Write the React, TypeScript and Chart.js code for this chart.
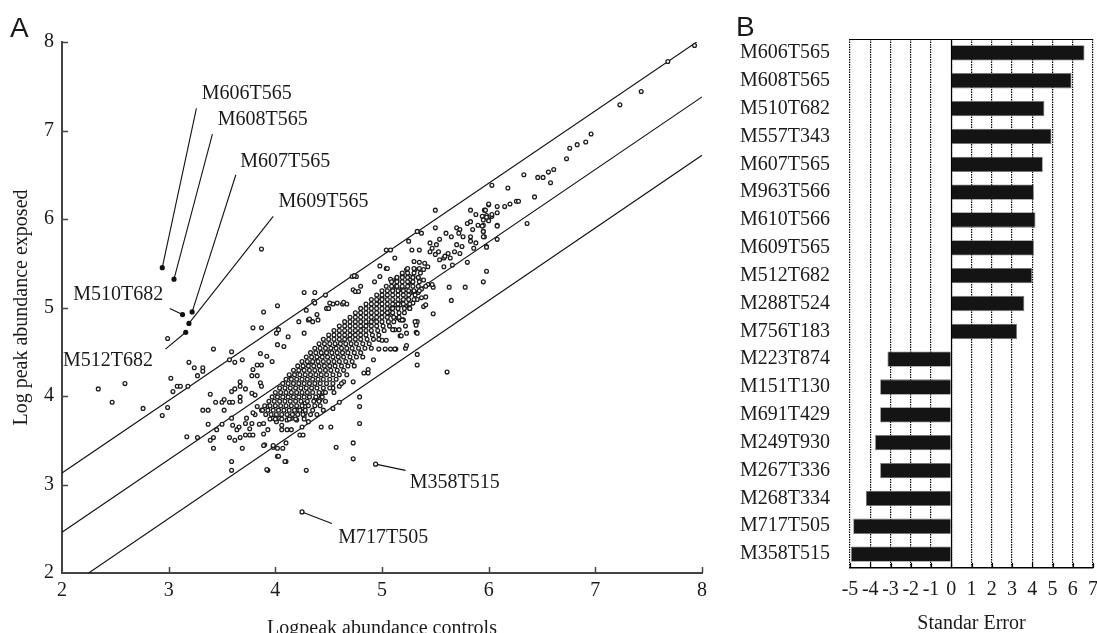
import React, { useEffect, useRef } from "react";
import { Chart, registerables } from "chart.js";

Chart.register(...registerables);

const SERIF = '"Liberation Serif", "Times New Roman", serif';
const SANS = '"Liberation Sans", Arial, sans-serif';
const INK = "#1a1a1a";

// ---------------- Panel A data ----------------
const axisMinA = 2;
const axisMaxA = 8;

// scattered (non-core) points [controls, exposed]
const scatterPoints: [number, number][] = [
  [2.34, 4.08], [2.47, 3.93], [2.59, 4.14], [2.76, 3.86], [2.94, 3.78], [2.99, 3.87], [3.02, 4.2], [3.04, 4.05],
  [2.99, 4.65], [3.08, 4.11], [3.11, 4.11], [3.17, 3.54], [3.18, 4.11], [3.19, 4.38],
  [3.42, 4.53], [3.59, 4.5], [3.57, 4.41], [3.62, 4.38], [3.69, 4.41],
  [3.24, 4.32], [3.32, 4.32], [3.32, 4.28], [3.27, 4.23],
  [3.39, 4.02], [3.44, 3.93], [3.5, 3.93], [3.52, 3.96], [3.57, 3.93], [3.6, 3.93], [3.59, 4.05], [3.62, 4.08],
  [3.67, 4.16], [3.67, 4.11], [3.67, 3.99], [3.67, 3.94],
  [3.32, 3.84], [3.37, 3.84], [3.52, 3.84], [3.37, 3.68], [3.45, 3.62], [3.5, 3.68],
  [3.27, 3.53], [3.39, 3.5], [3.42, 3.53], [3.42, 3.41], [3.57, 3.53], [3.62, 3.5], [3.67, 3.53], [3.72, 3.56],
  [3.59, 3.75], [3.6, 3.67], [3.64, 3.62], [3.66, 3.65], [3.69, 3.41], [3.59, 3.26], [3.59, 3.16],
  [3.72, 3.69], [3.73, 3.75], [3.78, 3.69], [3.76, 3.63], [3.76, 3.56], [3.79, 3.56], [3.81, 3.79], [3.85, 3.68],
  [3.89, 3.69], [3.89, 3.57], [3.93, 3.62],
  [3.9, 3.45], [3.98, 3.42], [4.02, 3.41], [4.07, 3.41], [4.1, 3.47], [4.02, 3.32], [4.1, 3.26], [3.93, 3.16],
  [4.29, 3.16], [3.89, 3.44], [3.98, 3.44],
  [4.06, 3.62], [4.11, 3.62], [4.15, 3.62], [4.23, 3.56], [4.26, 3.56], [4.01, 3.71], [4.06, 3.67],
  [3.98, 3.75], [4.04, 3.75], [4.11, 3.73], [4.15, 3.75], [4.2, 3.73], [4.28, 3.81], [4.31, 3.71], [4.14, 3.77],
  [4.2, 3.84], [4.26, 3.86], [4.28, 3.92], [4.37, 3.96],
  [3.86, 4.48], [3.92, 4.45], [3.97, 4.39], [4.02, 4.58], [4.08, 4.56], [4.12, 4.67], [4.27, 4.71],
  [3.79, 4.3], [3.83, 4.35], [3.87, 4.35], [3.78, 4.23], [3.83, 4.23], [3.86, 4.15], [3.87, 4.11], [3.78, 4.03],
  [3.81, 4.01], [3.72, 4.08], [3.83, 3.88], [3.87, 3.84], [3.93, 3.88], [3.79, 3.81],
  [3.79, 4.77], [3.87, 4.77],
  [3.87, 5.66], [3.89, 4.95], [4.02, 5.02], [4.22, 4.84], [4.31, 4.86], [4.4, 4.86], [4.36, 5.07], [4.47, 5.14],
  [4.72, 5.35], [4.76, 5.35], [5.04, 5.65], [5.08, 5.65], [4.98, 5.47], [5.04, 5.44], [4.54, 5.04], [4.58, 5.05],
  [4.63, 5.04], [4.67, 5.04], [4.03, 4.75], [4.01, 4.71],
  [4.27, 5.17], [4.37, 5.17], [4.37, 5.05], [4.29, 4.97], [4.32, 4.87], [4.35, 4.84], [4.39, 4.92], [4.51, 5.05],
  [4.48, 4.99], [4.5, 4.99], [4.64, 5.06], [4.73, 5.2], [4.75, 5.18], [4.78, 5.18], [4.74, 5.36], [4.8, 5.24],
  [4.98, 5.35], [4.93, 5.29], [5.05, 5.44], [5.08, 5.32], [5.13, 5.32], [4.98, 5.07], [5.0, 5.11],
  [5.17, 4.86], [5.2, 4.86], [5.12, 4.75], [5.16, 4.75], [5.22, 4.79], [5.33, 4.84], [5.32, 4.72], [5.17, 4.68],
  [5.0, 4.63], [5.04, 4.63], [4.97, 4.53], [5.03, 4.53], [5.08, 4.53], [5.13, 4.53], [5.22, 4.54], [5.33, 4.35],
  [4.92, 4.41], [4.87, 4.3], [4.87, 4.26], [4.83, 4.26], [4.73, 4.16], [4.64, 4.16], [4.54, 4.09], [4.6, 4.11],
  [4.79, 3.99], [4.79, 3.88], [4.79, 3.69], [4.6, 3.93], [4.54, 3.86], [4.52, 3.65], [4.45, 4.04], [4.43, 3.99],
  [4.42, 3.96], [4.45, 3.84], [4.28, 3.88], [4.26, 3.82], [4.19, 3.81], [4.27, 3.77], [4.25, 3.65],
  [4.73, 3.47], [4.73, 3.29], [4.57, 3.42], [4.43, 3.65], [3.92, 3.17], [4.09, 3.26], [4.03, 3.32],
  [5.33, 4.47], [5.61, 4.27], [5.23, 4.57],
  [5.5, 6.1], [5.83, 6.1], [5.96, 6.1], [6.0, 6.16], [6.08, 6.14], [6.15, 6.14], [6.2, 6.17], [6.26, 6.2], [6.28, 6.2],
  [5.88, 6.05], [5.94, 6.03], [5.98, 6.04], [6.08, 6.07], [6.03, 6.03],
  [5.33, 5.86], [5.37, 5.84], [5.25, 5.75], [5.12, 5.56], [5.28, 5.65], [5.35, 5.65],
  [5.5, 5.9], [5.6, 5.84], [5.65, 5.8], [5.7, 5.9], [5.73, 5.88], [5.72, 5.84], [5.76, 5.8],
  [5.8, 5.95], [5.83, 5.97], [5.85, 5.88], [5.9, 5.93], [5.95, 5.93], [6.0, 5.99], [5.95, 5.86], [5.96, 5.8],
  [5.83, 5.8], [5.83, 5.75], [5.88, 5.73], [5.86, 5.67], [5.98, 5.69], [6.08, 5.77], [6.08, 5.93],
  [5.54, 5.77], [5.51, 5.71], [5.45, 5.73], [5.47, 5.67], [5.45, 5.63], [5.5, 5.6], [5.53, 5.63], [5.54, 5.54],
  [5.58, 5.56], [5.59, 5.58], [5.62, 5.61], [5.64, 5.56], [5.68, 5.63], [5.7, 5.71], [5.75, 5.69], [5.73, 5.61],
  [5.66, 5.48], [5.58, 5.46], [5.8, 5.51], [5.98, 5.41], [5.95, 5.29], [5.78, 5.23], [5.63, 5.23], [5.65, 5.08],
  [5.48, 5.23], [5.47, 5.26], [5.43, 5.26], [5.41, 5.24], [5.48, 4.93],
  [5.39, 5.31], [5.35, 5.32], [5.29, 5.34], [5.26, 5.35], [5.25, 5.28], [5.31, 5.43], [5.39, 5.43], [5.43, 5.46],
  [5.4, 5.5], [5.35, 5.51], [5.3, 5.52], [5.23, 5.43], [5.19, 5.36], [5.14, 5.31], [5.13, 5.24], [5.1, 5.2],
  [5.16, 5.2], [5.2, 5.2], [5.23, 5.2], [5.29, 5.18], [5.34, 5.17], [5.37, 5.21], [5.41, 5.12], [5.37, 5.11],
  [5.33, 5.09], [5.29, 5.05], [5.25, 5.03], [5.22, 5.01], [5.17, 5.03], [5.12, 5.03], [5.09, 4.99], [5.09, 4.92],
  [5.15, 4.88], [5.19, 4.86], [5.26, 4.99], [5.39, 5.01], [5.41, 5.03], [5.31, 4.84], [5.32, 4.8], [5.33, 4.71],
  [5.23, 4.71], [5.18, 4.68], [5.12, 4.53], [5.1, 4.75],
  [6.03, 6.38], [6.18, 6.35], [6.33, 6.5], [6.46, 6.47], [6.51, 6.47], [6.56, 6.53], [6.61, 6.56], [6.58, 6.41],
  [6.73, 6.68], [6.76, 6.8], [6.83, 6.84], [6.91, 6.87], [6.96, 6.96], [6.43, 6.25], [6.36, 5.95],
  [6.0, 6.17], [6.03, 6.05], [5.97, 6.1], [5.95, 5.99], [6.0, 5.98], [5.98, 6.02], [5.94, 5.92], [5.95, 5.86],
  [5.95, 5.8], [6.08, 5.92], [5.98, 5.68],
  [7.93, 7.96], [7.68, 7.78], [7.43, 7.44], [7.23, 7.29],
];

// dense core, row by row: [exposed, controls values]
const coreRows: [number, number[]][] = [
  [3.74, [3.95, 4.0, 4.06, 4.13, 4.19, 4.27]],
  [3.79, [3.91, 3.96, 4.01, 4.06, 4.11, 4.16, 4.21, 4.26, 4.33, 4.39]],
  [3.84, [3.88, 3.93, 3.98, 4.03, 4.08, 4.13, 4.18, 4.23, 4.28, 4.35]],
  [3.89, [3.9, 3.95, 4.0, 4.05, 4.1, 4.15, 4.2, 4.25, 4.31, 4.37, 4.42]],
  [3.94, [3.94, 3.99, 4.04, 4.09, 4.14, 4.19, 4.24, 4.3, 4.36, 4.41, 4.47]],
  [3.99, [3.97, 4.02, 4.07, 4.12, 4.17, 4.22, 4.27, 4.32, 4.38, 4.44]],
  [4.04, [4.0, 4.05, 4.1, 4.15, 4.2, 4.25, 4.3, 4.35, 4.41, 4.47, 4.55]],
  [4.09, [4.04, 4.09, 4.14, 4.19, 4.24, 4.29, 4.34, 4.39, 4.45, 4.51]],
  [4.14, [4.07, 4.12, 4.17, 4.22, 4.27, 4.32, 4.37, 4.42, 4.48, 4.54, 4.62]],
  [4.19, [4.1, 4.15, 4.2, 4.25, 4.3, 4.35, 4.4, 4.45, 4.51, 4.57]],
  [4.24, [4.13, 4.18, 4.23, 4.28, 4.33, 4.38, 4.43, 4.48, 4.54, 4.6, 4.67]],
  [4.29, [4.17, 4.22, 4.27, 4.32, 4.37, 4.42, 4.47, 4.52, 4.58, 4.64]],
  [4.34, [4.21, 4.26, 4.31, 4.36, 4.41, 4.46, 4.51, 4.56, 4.62, 4.68, 4.74]],
  [4.39, [4.25, 4.3, 4.35, 4.4, 4.45, 4.5, 4.55, 4.6, 4.66, 4.72]],
  [4.44, [4.29, 4.34, 4.39, 4.44, 4.49, 4.54, 4.59, 4.64, 4.7, 4.76, 4.82]],
  [4.49, [4.33, 4.38, 4.43, 4.48, 4.53, 4.58, 4.63, 4.68, 4.74, 4.8]],
  [4.54, [4.37, 4.42, 4.47, 4.52, 4.57, 4.62, 4.67, 4.72, 4.78, 4.84, 4.9]],
  [4.59, [4.41, 4.46, 4.51, 4.56, 4.61, 4.66, 4.71, 4.76, 4.82, 4.88]],
  [4.64, [4.45, 4.5, 4.55, 4.6, 4.65, 4.7, 4.75, 4.8, 4.86, 4.92, 4.97]],
  [4.69, [4.5, 4.55, 4.6, 4.65, 4.7, 4.75, 4.8, 4.85, 4.91, 4.97]],
  [4.74, [4.55, 4.6, 4.65, 4.7, 4.75, 4.8, 4.85, 4.9, 4.96, 5.02]],
  [4.79, [4.6, 4.65, 4.7, 4.75, 4.8, 4.85, 4.9, 4.95, 5.01, 5.07]],
  [4.84, [4.65, 4.7, 4.75, 4.8, 4.85, 4.9, 4.95, 5.0, 5.06, 5.11]],
  [4.89, [4.7, 4.75, 4.8, 4.85, 4.9, 4.95, 5.0, 5.05, 5.11, 5.16]],
  [4.94, [4.75, 4.8, 4.85, 4.9, 4.95, 5.0, 5.05, 5.1, 5.16, 5.21]],
  [4.99, [4.8, 4.85, 4.9, 4.95, 5.0, 5.05, 5.1, 5.15, 5.21, 5.26]],
  [5.04, [4.85, 4.9, 4.95, 5.0, 5.05, 5.1, 5.15, 5.2, 5.26]],
  [5.09, [4.9, 4.95, 5.0, 5.05, 5.1, 5.15, 5.2, 5.25, 5.3]],
  [5.14, [4.95, 5.0, 5.05, 5.1, 5.15, 5.2, 5.25, 5.31]],
  [5.19, [5.0, 5.05, 5.1, 5.15, 5.2, 5.25, 5.3, 5.35]],
  [5.24, [5.04, 5.09, 5.14, 5.19, 5.24, 5.29, 5.34]],
  [5.29, [5.09, 5.14, 5.19, 5.24, 5.29, 5.35]],
  [5.34, [5.14, 5.19, 5.24, 5.29, 5.34]],
  [5.39, [5.19, 5.24, 5.3, 5.36]],
  [5.44, [5.24, 5.3, 5.35]],
];

// labelled compounds
const labeledNames = ["M606T565", "M608T565", "M607T565", "M609T565", "M510T682", "M512T682", "M358T515", "M717T505"];
const labeledX = [2.94, 3.05, 3.22, 3.19, 3.13, 3.16, 4.94, 4.25];
const labeledY = [5.45, 5.32, 4.95, 4.82, 4.92, 4.72, 3.23, 2.69];
const labeledFilled = [true, true, true, true, true, true, false, false];
const leaderX = [3.26, 3.41, 3.63, 3.98, 3.01, 2.97, 5.22, 4.53];
const leaderY = [7.25, 6.96, 6.5, 6.03, 4.99, 4.53, 3.16, 2.56];
const labelTextX = [3.31, 3.46, 3.67, 4.03, 2.95, 2.01, 5.26, 4.59];
const labelTextY = [7.41, 7.12, 6.65, 6.2, 5.14, 4.4, 3.02, 2.4];
const labelAlign = ["left", "left", "left", "left", "right", "left", "left", "left"];

// reference lines
const upperLineX = [2, 7.95];
const upperLineY = [3.13, 8.0];
const middleLineX = [2, 8];
const middleLineY = [2.46, 7.38];
const lowerLineX = [2.25, 8];
const lowerLineY = [2, 6.72];

// ---------------- Panel B data ----------------
const compounds = [
  "M606T565", "M608T565", "M510T682", "M557T343", "M607T565", "M963T566", "M610T566", "M609T565", "M512T682",
  "M288T524", "M756T183", "M223T874", "M151T130", "M691T429", "M249T930", "M267T336", "M268T334", "M717T505", "M358T515",
];
const standardErrors = [6.58, 5.94, 4.6, 4.95, 4.52, 4.08, 4.16, 4.08, 3.99, 3.61, 3.25, -3.15, -3.51, -3.51, -3.76, -3.51, -4.22, -4.84, -4.95];
const errorMin = -5;
const errorMax = 7;

function toXY(xs: number[], ys: number[]) {
  return xs.map((x, i) => ({ x, y: ys[i] }));
}

const inwardTicksA = {
  id: "inwardTicksA",
  afterDraw(chart: any) {
    const { ctx, chartArea, scales } = chart;
    const x = scales.x;
    const y = scales.y;
    ctx.save();
    ctx.strokeStyle = "#444";
    ctx.lineWidth = 1.5;
    x.ticks.forEach((t: any) => {
      if (t.value === x.min) return;
      const px = Math.round(x.getPixelForValue(t.value)) + 0.5;
      ctx.beginPath();
      ctx.moveTo(px, chartArea.bottom);
      ctx.lineTo(px, chartArea.bottom - 6);
      ctx.stroke();
    });
    y.ticks.forEach((t: any) => {
      if (t.value === y.min) return;
      const py = Math.round(y.getPixelForValue(t.value)) + 0.5;
      ctx.beginPath();
      ctx.moveTo(chartArea.left, py);
      ctx.lineTo(chartArea.left + 6, py);
      ctx.stroke();
    });
    // annotation texts
    ctx.fillStyle = INK;
    ctx.font = `20px ${SERIF}`;
    ctx.textBaseline = "middle";
    labeledNames.forEach((name, i) => {
      ctx.textAlign = labelAlign[i] as CanvasTextAlign;
      ctx.fillText(name, x.getPixelForValue(labelTextX[i]), y.getPixelForValue(labelTextY[i]));
    });
    // panel letter
    ctx.font = `28px ${SANS}`;
    ctx.textAlign = "left";
    ctx.textBaseline = "alphabetic";
    ctx.fillText("A", 10, 37);
    ctx.restore();
  },
};

const frameB = {
  id: "frameB",
  beforeDatasetsDraw(chart: any) {
    const { ctx, chartArea, scales } = chart;
    const x = scales.x;
    ctx.save();
    ctx.strokeStyle = "#000";
    ctx.lineWidth = 1.2;
    const zx = Math.round(x.getPixelForValue(0)) + 0.5;
    ctx.beginPath();
    ctx.moveTo(zx, chartArea.top);
    ctx.lineTo(zx, chartArea.bottom);
    ctx.stroke();
    ctx.beginPath();
    ctx.moveTo(chartArea.left, chartArea.top + 0.5);
    ctx.lineTo(chartArea.right, chartArea.top + 0.5);
    ctx.stroke();
    ctx.restore();
  },
  afterDraw(chart: any) {
    const { ctx, chartArea, scales } = chart;
    const x = scales.x;
    ctx.save();
    ctx.strokeStyle = "#000";
    ctx.lineWidth = 1.2;
    x.ticks.forEach((t: any) => {
      const px = Math.round(x.getPixelForValue(t.value)) + 0.5;
      ctx.beginPath();
      ctx.moveTo(px, chartArea.bottom);
      ctx.lineTo(px, chartArea.bottom - 5);
      ctx.stroke();
    });
    ctx.fillStyle = INK;
    ctx.font = `28px ${SANS}`;
    ctx.textBaseline = "alphabetic";
    ctx.fillText("B", 16, 36);
    ctx.restore();
  },
};

export default function App() {
  const refA = useRef<HTMLCanvasElement>(null);
  const refB = useRef<HTMLCanvasElement>(null);

  useEffect(() => {
    const scatterData = [
      ...scatterPoints.map(([x, y]) => ({ x, y })),
      ...coreRows.flatMap(([y, xs]) => xs.map((x) => ({ x, y }))),
    ];
    const lineStyle = {
      showLine: true,
      pointRadius: 0,
      borderColor: "#111",
      borderWidth: 1.1,
      fill: false,
    };
    const leaderDatasets = labeledNames.map((name, i) => ({
      label: name + " leader",
      data: [
        { x: labeledX[i], y: labeledY[i] },
        { x: leaderX[i], y: leaderY[i] },
      ],
      ...lineStyle,
    }));

    const chartA = new Chart(refA.current as HTMLCanvasElement, {
      type: "scatter",
      data: {
        datasets: [
          {
            label: "labelled",
            data: toXY(labeledX, labeledY),
            pointRadius: 2,
            borderWidth: 1.2,
            borderColor: "#111",
            pointBackgroundColor: labeledFilled.map((f) => (f ? "#111" : "#fff")),
          },
          ...leaderDatasets,
          {
            label: "features",
            data: scatterData,
            pointRadius: 1.9,
            borderWidth: 1.3,
            borderColor: "#1c1c1c",
            backgroundColor: "#fff",
          },
          { label: "upper", data: toXY(upperLineX, upperLineY), ...lineStyle },
          { label: "middle", data: toXY(middleLineX, middleLineY), ...lineStyle },
          { label: "lower", data: toXY(lowerLineX, lowerLineY), ...lineStyle },
        ],
      },
      options: {
        responsive: false,
        animation: false,
        events: [],
        layout: { padding: { left: 0, top: 42, right: 58, bottom: 0 } },
        plugins: { legend: { display: false }, tooltip: { enabled: false } },
        scales: {
          x: {
            type: "linear",
            min: axisMinA,
            max: axisMaxA,
            grid: { display: false, drawTicks: false },
            border: { display: true, color: "#444", width: 2 },
            ticks: { stepSize: 1, color: INK, padding: 6, font: { family: SERIF, size: 20 }, maxRotation: 0 },
            title: {
              display: true,
              text: "Logpeak abundance controls",
              color: INK,
              font: { family: SERIF, size: 20 },
              padding: { top: 0, bottom: 9 },
            },
            afterFit: (s: any) => {
              s.height = 77;
            },
          },
          y: {
            type: "linear",
            min: axisMinA,
            max: axisMaxA,
            grid: { display: false, drawTicks: false },
            border: { display: true, color: "#444", width: 2 },
            ticks: { stepSize: 1, color: INK, padding: 8, font: { family: SERIF, size: 20 } },
            title: {
              display: true,
              text: "Log peak abundance exposed",
              color: INK,
              font: { family: SERIF, size: 20 },
              padding: { top: 10, bottom: 0 },
            },
            afterFit: (s: any) => {
              s.width = 62;
            },
          },
        },
      },
      plugins: [inwardTicksA],
    } as any);

    const chartB = new Chart(refB.current as HTMLCanvasElement, {
      type: "bar",
      data: {
        labels: compounds,
        datasets: [
          {
            label: "Standar Error",
            data: standardErrors,
            backgroundColor: "#141414",
            borderColor: "#777",
            borderWidth: 0.8,
            barPercentage: 0.55,
            categoryPercentage: 1,
          },
        ],
      },
      options: {
        indexAxis: "y",
        responsive: false,
        animation: false,
        events: [],
        layout: { padding: { left: 0, top: 39, right: 17, bottom: 0 } },
        plugins: { legend: { display: false }, tooltip: { enabled: false } },
        scales: {
          x: {
            type: "linear",
            min: errorMin,
            max: errorMax,
            grid: { display: true, color: "#000", lineWidth: 1.2, drawTicks: false },
            border: { display: true, color: "#000", width: 1.5, dash: [1.5, 1] },
            ticks: {
              stepSize: 1,
              autoSkip: false,
              maxRotation: 0,
              color: INK,
              padding: 10,
              font: { family: SERIF, size: 20 },
            },
            title: {
              display: true,
              text: "Standar Error",
              color: INK,
              font: { family: SERIF, size: 20 },
              padding: { top: 0, bottom: 14 },
            },
            afterFit: (s: any) => {
              s.height = 82;
            },
          },
          y: {
            type: "category",
            offset: true,
            grid: { display: false, drawTicks: false },
            border: { display: false },
            ticks: { color: INK, padding: 20, font: { family: SERIF, size: 20 }, autoSkip: false },
            afterFit: (s: any) => {
              s.width = 130;
            },
          },
        },
      },
      plugins: [frameB],
    } as any);

    return () => {
      chartA.destroy();
      chartB.destroy();
    };
  }, []);

  return (
    <div
      style={{
        position: "fixed",
        left: 0,
        top: 0,
        width: 1097,
        height: 633,
        overflow: "hidden",
        background: "#fff",
      }}
    >
      <canvas
        ref={refA}
        width={760}
        height={650}
        style={{ position: "absolute", left: 0, top: 0, width: 760, height: 650 }}
      />
      <canvas
        ref={refB}
        width={390}
        height={650}
        style={{ position: "absolute", left: 720, top: 0, width: 390, height: 650 }}
      />
    </div>
  );
}
